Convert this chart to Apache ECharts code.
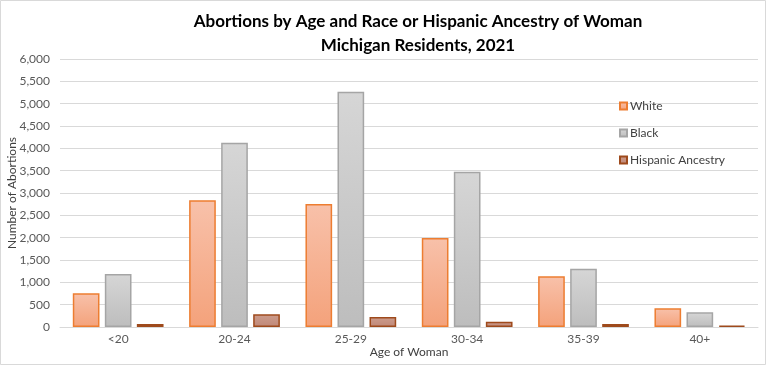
<!DOCTYPE html>
<html>
<head>
<meta charset="utf-8">
<script src="https://cdn.jsdelivr.net/npm/echarts@6/dist/echarts.min.js"></script>
<style>html,body{margin:0;padding:0;background:#fff}#c{width:766px;height:365px}</style>
</head>
<body>
<div id="c"></div>
<script>
const categories = ['<20', '20-24', '25-29', '30-34', '35-39', '40+'];
const white = [755, 2836, 2754, 1993, 1134, 418];
const black = [1187, 4127, 5269, 3478, 1306, 328];
const hispanic = [67, 283, 224, 119, 67, 30];
const yTicks = {min: 0, max: 6000, interval: 500};

const FONT = 'Lato';
function grad(top, bottom) {
  return new echarts.graphic.LinearGradient(0, 0, 0, 1, [
    {offset: 0, color: top}, {offset: 1, color: bottom}
  ]);
}
const chart = echarts.init(document.getElementById('c'));
chart.setOption({
  animation: false,
  backgroundColor: '#fff',
  textStyle: {fontFamily: FONT},
  title: {
    text: 'Abortions by Age and Race or Hispanic Ancestry of Woman\nMichigan Residents, 2021',
    left: 413, top: 5, textAlign: 'center',
    textStyle: {fontFamily: FONT, fontSize: 17, fontWeight: 'bold', color: '#000', lineHeight: 24}
  },
  legend: {
    orient: 'vertical', left: 614, top: 95, itemGap: 15,
    itemWidth: 7, itemHeight: 7, icon: 'rect',
    textStyle: {fontFamily: FONT, fontSize: 12, color: '#404040', padding: [0, 0, 0, -2]},
    data: ['White', 'Black', 'Hispanic Ancestry']
  },
  grid: {left: 60, right: 8, top: 59, bottom: 38, containLabel: false, outerBoundsMode: 'none'},
  xAxis: {
    type: 'category', data: categories,
    name: 'Age of Woman', nameLocation: 'middle', nameGap: 19, nameMoveOverlap: false,
    nameTextStyle: {fontFamily: FONT, fontSize: 12, color: '#404040'},
    axisLine: {lineStyle: {color: '#d9d9d9'}},
    axisTick: {show: false},
    axisLabel: {fontFamily: FONT, fontSize: 12, color: '#595959', margin: 6}
  },
  yAxis: {
    type: 'value', min: yTicks.min, max: yTicks.max, interval: yTicks.interval,
    name: 'Number of Abortions', nameLocation: 'middle', nameGap: 42, nameMoveOverlap: false,
    nameTextStyle: {fontFamily: FONT, fontSize: 12, color: '#404040'},
    axisLine: {show: false}, axisTick: {show: false},
    splitLine: {lineStyle: {color: '#d9d9d9', width: 1}},
    axisLabel: {fontFamily: FONT, fontSize: 12, color: '#595959', margin: 10,
      formatter: v => v.toLocaleString('en-US')}
  },
  series: [
    {name: 'White', type: 'bar', data: white, barGap: '20%', barCategoryGap: '22%',
      itemStyle: {color: grad('#f8c1aa', '#f4a27b'), borderColor: '#ed7d31', borderWidth: 1.5}},
    {name: 'Black', type: 'bar', data: black,
      itemStyle: {color: grad('#d6d6d6', '#bdbdbd'), borderColor: '#a5a5a5', borderWidth: 1.5}},
    {name: 'Hispanic Ancestry', type: 'bar', data: hispanic,
      itemStyle: {color: grad('#cc9c8c', '#c08878'), borderColor: '#9e4a1c', borderWidth: 1.5}}
  ],
  graphic: [{type: 'rect', shape: {x: 0.5, y: 0.5, width: 765, height: 364},
    style: {fill: 'none', stroke: '#d9d9d9', lineWidth: 1}, silent: true}]
});
</script>
</body>
</html>
